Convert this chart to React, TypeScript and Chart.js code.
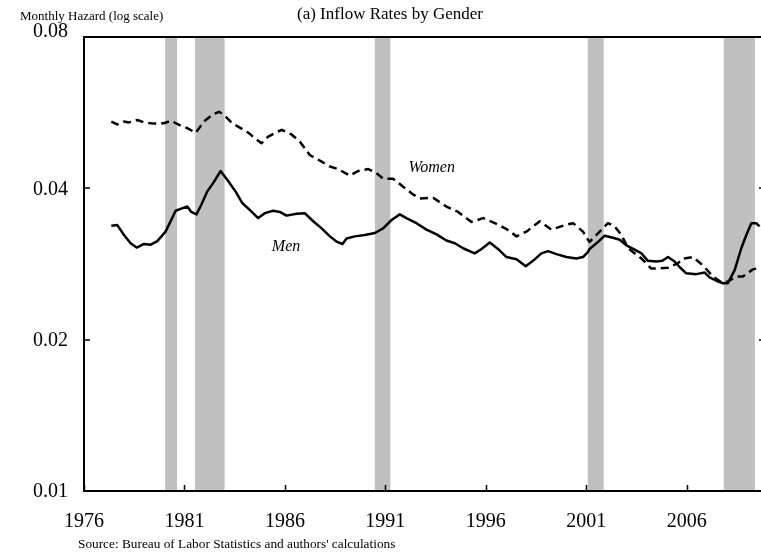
import React, { useEffect, useRef } from "react";
import { Chart, registerables } from "chart.js";

Chart.register(...registerables);

const menYears = [1977.36,1977.66,1977.99,1978.32,1978.62,1978.99,1979.32,1979.65,1980.06,1980.34,1980.56,1980.81,1981.14,1981.34,1981.6,1981.84,1982.13,1982.47,1982.8,1983.13,1983.55,1983.88,1984.26,1984.67,1985.0,1985.42,1985.75,1986.08,1986.58,1986.99,1987.41,1987.83,1988.24,1988.6,1988.87,1989.07,1989.48,1989.98,1990.48,1990.89,1991.31,1991.72,1992.05,1992.55,1993.05,1993.55,1994.04,1994.46,1994.87,1995.45,1995.79,1996.2,1996.61,1997.03,1997.53,1997.99,1998.35,1998.77,1999.1,1999.52,2000.01,2000.51,2000.84,2001.09,2001.17,2001.59,2001.92,2002.33,2002.67,2003.0,2003.41,2003.75,2004.07,2004.49,2004.79,2005.07,2005.4,2005.65,2005.98,2006.48,2006.9,2007.14,2007.48,2007.81,2008.05,2008.39,2008.72,2008.97,2009.22,2009.46,2009.63];
const menValues = [0.0337,0.0338,0.0323,0.0311,0.0305,0.0310,0.0309,0.0314,0.0328,0.0346,0.0361,0.0364,0.0368,0.0359,0.0355,0.0371,0.0394,0.0412,0.0433,0.0416,0.0394,0.0374,0.0362,0.0349,0.0357,0.0361,0.0359,0.0353,0.0356,0.0357,0.0344,0.0333,0.0321,0.0313,0.0310,0.0318,0.0321,0.0323,0.0326,0.0333,0.0346,0.0355,0.0349,0.0341,0.0331,0.0324,0.0315,0.0311,0.0304,0.0297,0.0303,0.0312,0.0303,0.0292,0.0289,0.0280,0.0287,0.0297,0.0300,0.0296,0.0292,0.0290,0.0292,0.0299,0.0303,0.0313,0.0322,0.0319,0.0316,0.0308,0.0302,0.0297,0.0287,0.0286,0.0287,0.0292,0.0286,0.0279,0.0271,0.0270,0.0272,0.0266,0.0262,0.0259,0.0259,0.0275,0.0304,0.0323,0.0341,0.0341,0.0336];

const womenYears = [1977.36,1977.66,1977.99,1978.24,1978.65,1978.99,1979.48,1979.98,1980.34,1980.81,1981.14,1981.56,1981.97,1982.38,1982.72,1982.97,1983.38,1983.8,1984.21,1984.51,1984.84,1985.17,1985.84,1986.33,1986.75,1987.24,1987.83,1988.24,1988.65,1989.23,1989.65,1990.15,1990.56,1990.89,1991.39,1991.89,1992.38,1992.72,1993.38,1994.04,1994.62,1995.29,1995.87,1996.45,1997.03,1997.53,1998.02,1998.69,1999.27,1999.93,2000.35,2000.84,2001.09,2001.17,2001.67,2002.08,2002.42,2002.75,2003.09,2003.75,2004.24,2004.57,2005.07,2005.57,2005.82,2006.32,2006.81,2007.31,2007.73,2008.05,2008.47,2008.8,2009.3,2009.63];
const womenValues = [0.0543,0.0536,0.0543,0.0541,0.0547,0.0541,0.0538,0.0539,0.0545,0.0533,0.0527,0.0516,0.0543,0.0560,0.0568,0.0560,0.0539,0.0527,0.0515,0.0503,0.0492,0.0507,0.0523,0.0512,0.0495,0.0466,0.0452,0.0442,0.0437,0.0424,0.0433,0.0437,0.0429,0.0418,0.0418,0.0403,0.0389,0.0382,0.0383,0.0368,0.0359,0.0343,0.0349,0.0341,0.0332,0.0321,0.0328,0.0344,0.0331,0.0338,0.0341,0.0328,0.0316,0.0313,0.0328,0.0341,0.0336,0.0323,0.0304,0.0290,0.0277,0.0277,0.0278,0.0284,0.0290,0.0292,0.0281,0.0267,0.0260,0.0261,0.0267,0.0267,0.0276,0.0278];

const recessionStarts = [1980.04, 1981.53, 1990.48, 2001.08, 2007.85];
const recessionEnds = [1980.63, 1983.0, 1991.25, 2001.87, 2009.4];

const xTickYears = [1976, 1981, 1986, 1991, 1996, 2001, 2006];
const yTickValues = [0.01, 0.02, 0.04, 0.08];
const yTickLabels = ["0.01", "0.02", "0.04", "0.08"];

const titleText = "(a) Inflow Rates by Gender";
const yAxisText = "Monthly Hazard (log scale)";
const sourceText = "Source: Bureau of Labor Statistics and authors' calculations";
const menLabel = { text: "Men", year: 1985.35, value: 0.0306 };
const womenLabel = { text: "Women", year: 1992.15, value: 0.0440 };

const SERIF = '"Liberation Serif", "Times New Roman", serif';

const decorPlugin = {
  id: "decor",
  beforeDatasetsDraw(chart: any) {
    const { ctx, chartArea } = chart;
    const x = chart.scales.x;
    ctx.save();
    ctx.fillStyle = "#c0c0c0";
    for (let i = 0; i < recessionStarts.length; i++) {
      const x0 = x.getPixelForValue(recessionStarts[i]);
      const x1 = x.getPixelForValue(recessionEnds[i]);
      ctx.fillRect(x0, chartArea.top, x1 - x0, chartArea.bottom - chartArea.top);
    }
    ctx.restore();
  },
  afterDatasetsDraw(chart: any) {
    const { ctx, chartArea } = chart;
    const { left, right, top, bottom } = chartArea;
    const x = chart.scales.x;
    const y = chart.scales.y;
    ctx.save();
    ctx.strokeStyle = "#000";
    ctx.lineWidth = 2;
    ctx.beginPath();
    ctx.moveTo(left, top);
    ctx.lineTo(right, top);
    ctx.moveTo(left, top - 1);
    ctx.lineTo(left, bottom + 1);
    ctx.moveTo(left, bottom);
    ctx.lineTo(right, bottom);
    ctx.moveTo(right, top);
    ctx.lineTo(right, bottom);
    ctx.stroke();
    ctx.lineWidth = 1.5;
    ctx.beginPath();
    for (const v of yTickValues) {
      const py = Math.round(y.getPixelForValue(v));
      ctx.moveTo(left, py);
      ctx.lineTo(left + 6, py);
      ctx.moveTo(right, py);
      ctx.lineTo(right - 8, py);
    }
    for (const yr of xTickYears) {
      const px = Math.round(x.getPixelForValue(yr)) + 0.5;
      ctx.moveTo(px, bottom);
      ctx.lineTo(px, bottom - 6);
    }
    ctx.stroke();
    ctx.fillStyle = "#000";
    ctx.font = `20px ${SERIF}`;
    ctx.textAlign = "right";
    yTickValues.forEach((v, i) => {
      const py = y.getPixelForValue(v);
      if (i === yTickValues.length - 1) {
        ctx.textBaseline = "alphabetic";
        ctx.fillText(yTickLabels[i], 68, py);
      } else {
        ctx.textBaseline = "middle";
        ctx.fillText(yTickLabels[i], 68, py + 1);
      }
    });
    ctx.textAlign = "center";
    ctx.textBaseline = "middle";
    for (const yr of xTickYears) {
      ctx.fillText(String(yr), x.getPixelForValue(yr), bottom + 31);
    }
    ctx.font = `13px ${SERIF}`;
    ctx.textAlign = "left";
    ctx.fillText(yAxisText, 20, 17);
    ctx.font = `13.3px ${SERIF}`;
    ctx.fillText(sourceText, 78, 545);
    ctx.font = `17px ${SERIF}`;
    ctx.textAlign = "center";
    ctx.fillText(titleText, 390, 15);
    ctx.font = `italic 16px ${SERIF}`;
    ctx.textAlign = "left";
    ctx.fillText(menLabel.text, x.getPixelForValue(menLabel.year), y.getPixelForValue(menLabel.value));
    ctx.fillText(womenLabel.text, x.getPixelForValue(womenLabel.year), y.getPixelForValue(womenLabel.value));
    ctx.restore();
  },
};

export default function App() {
  const ref = useRef<HTMLCanvasElement>(null);
  useEffect(() => {
    const canvas = ref.current;
    if (!canvas) return;
    const chart = new Chart(canvas, {
      type: "line",
      data: {
        datasets: [
          {
            label: "Men",
            data: menYears.map((yr, i) => ({ x: yr, y: menValues[i] })),
            borderColor: "#000",
            borderWidth: 2.5,
            pointRadius: 0,
            tension: 0,
            fill: false,
            borderJoinStyle: "round",
          },
          {
            label: "Women",
            data: womenYears.map((yr, i) => ({ x: yr, y: womenValues[i] })),
            borderColor: "#000",
            borderWidth: 2.5,
            borderDash: [8, 5],
            pointRadius: 0,
            tension: 0,
            fill: false,
            borderJoinStyle: "round",
          },
        ],
      },
      options: {
        responsive: false,
        animation: false,
        devicePixelRatio: 1,
        layout: { padding: { left: 84, top: 37, right: 8, bottom: 66 } },
        plugins: { legend: { display: false }, tooltip: { enabled: false }, title: { display: false } },
        scales: {
          x: { type: "linear", min: 1976, max: 2010, display: false },
          y: { type: "logarithmic", min: 0.01, max: 0.08, display: false },
        },
      },
      plugins: [decorPlugin],
    } as any);
    return () => chart.destroy();
  }, []);
  return (
    <div style={{ position: "fixed", left: 0, top: 0, width: 761, height: 557, overflow: "hidden", background: "#fff" }}>
      <canvas ref={ref} width={775} height={557} style={{ display: "block", width: 775, height: 557 }} />
    </div>
  );
}
